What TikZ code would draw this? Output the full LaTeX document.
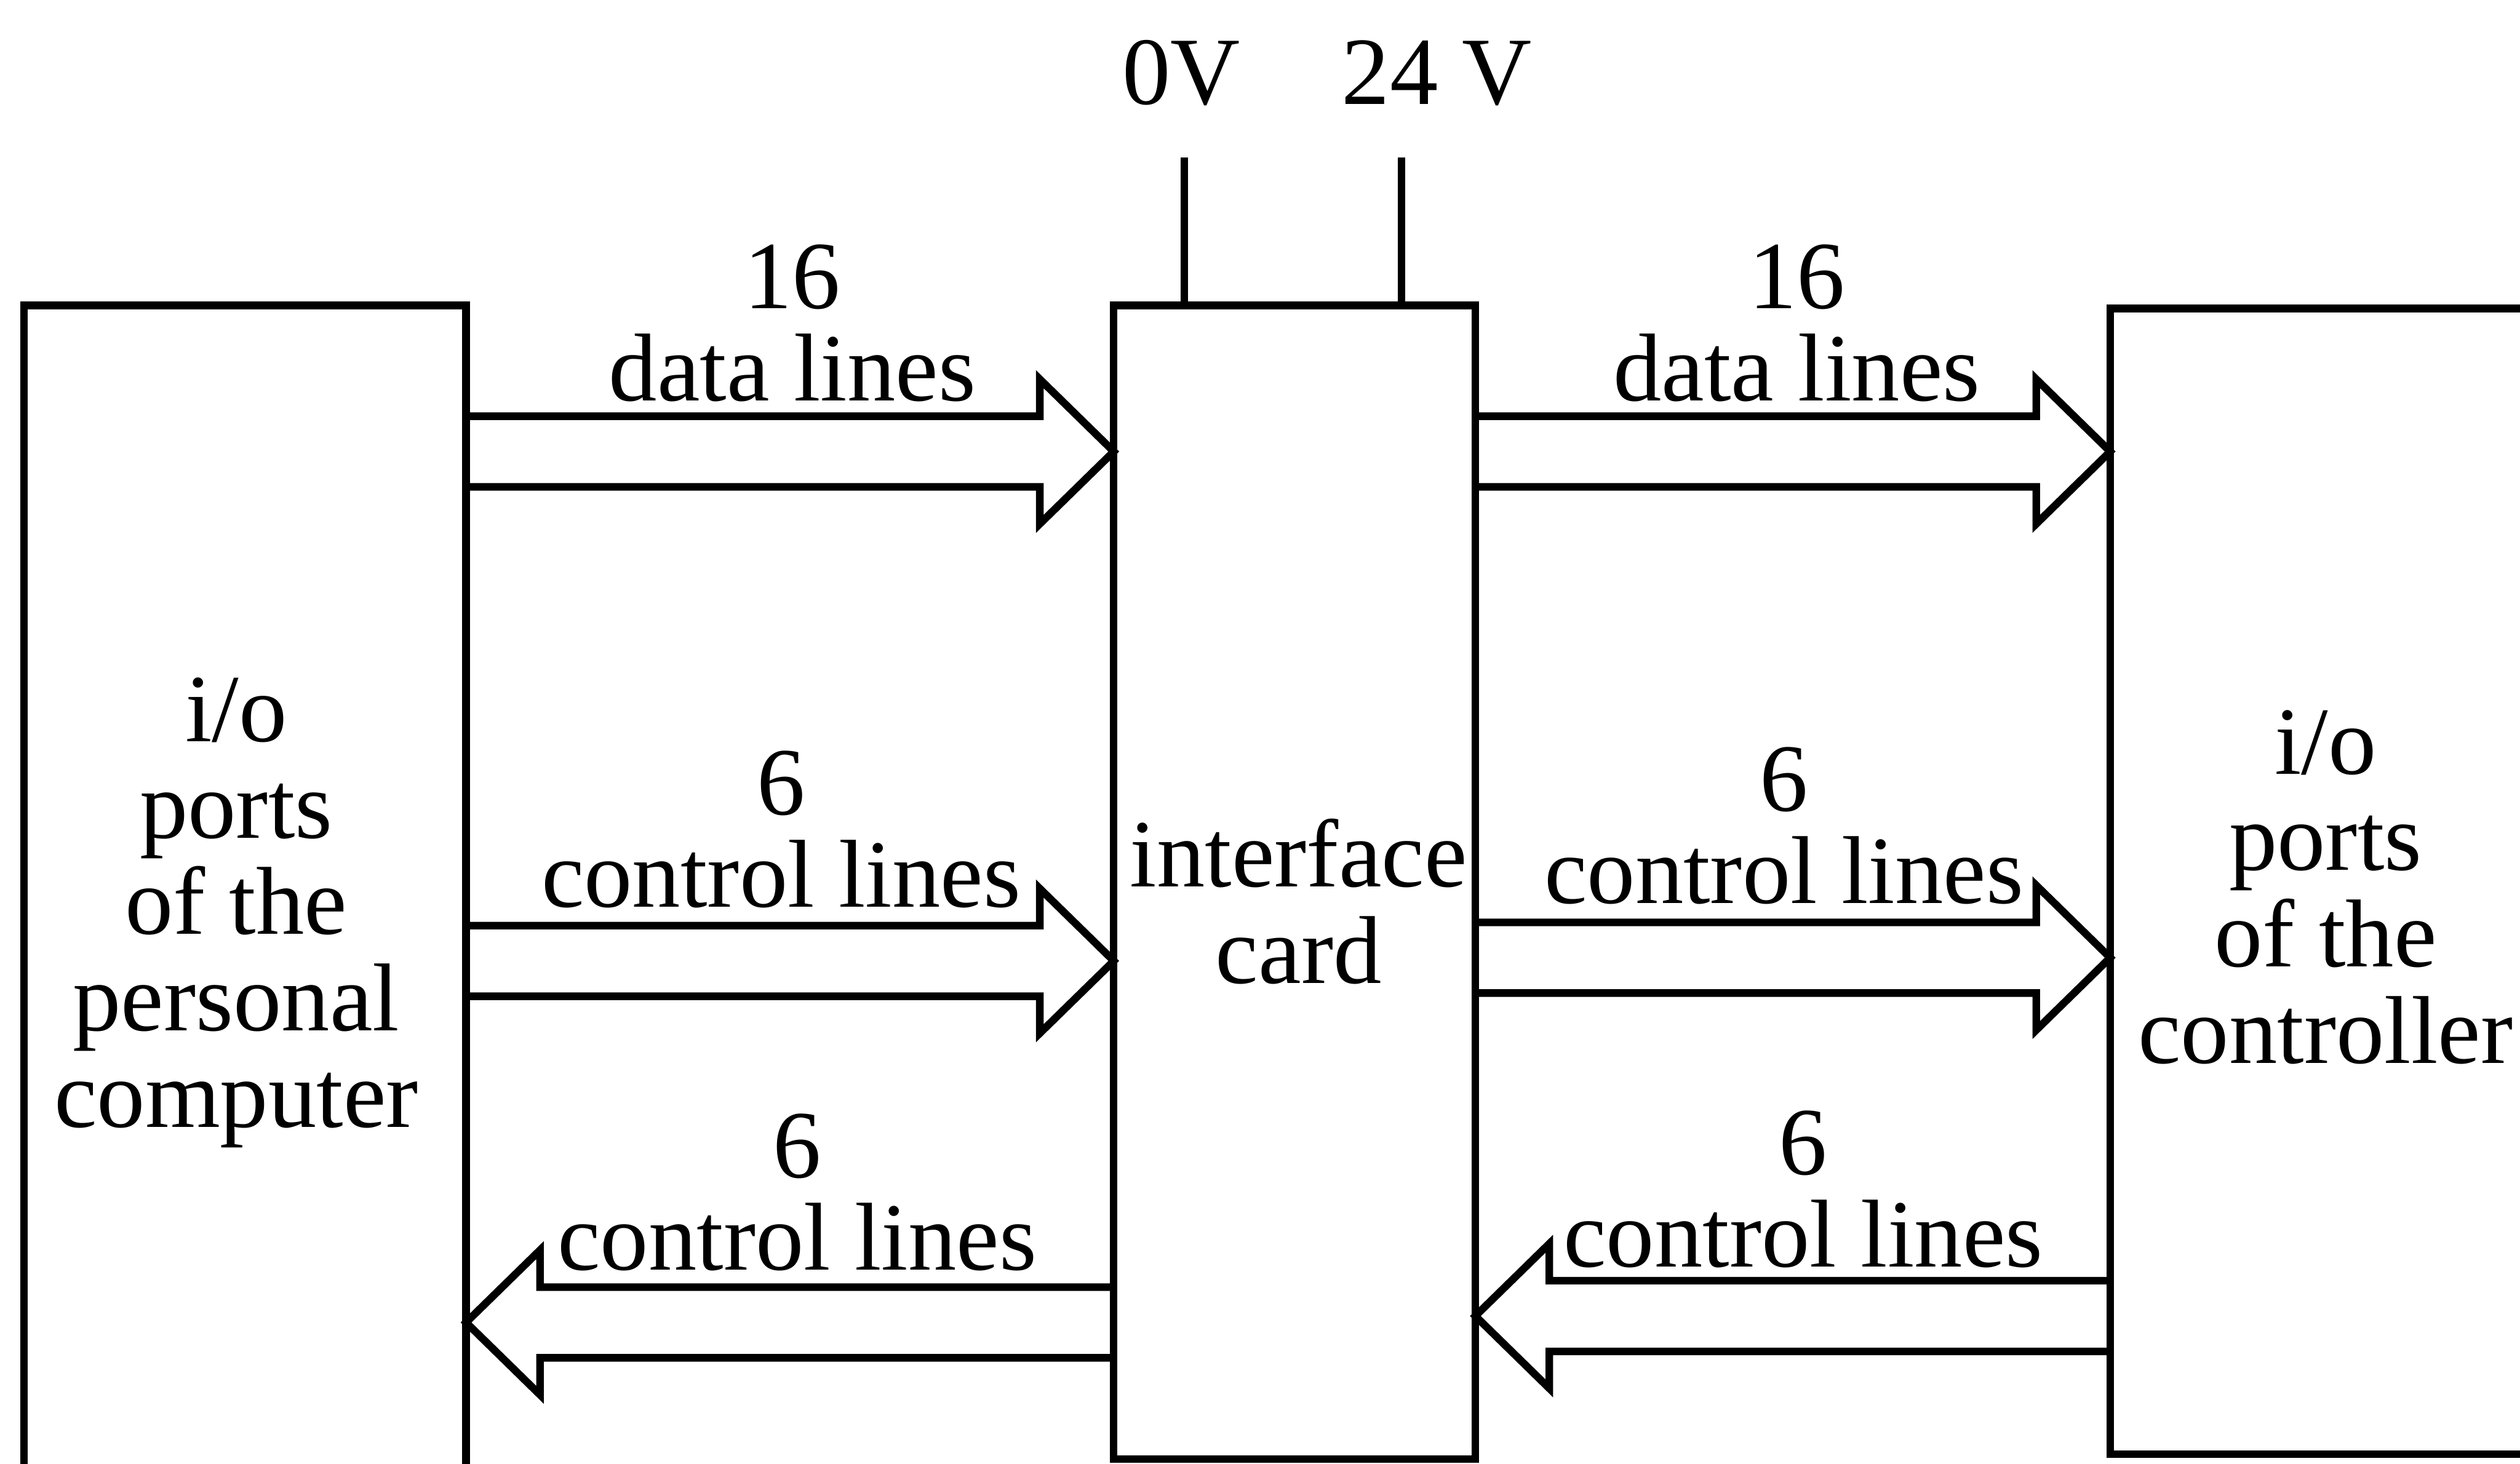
\documentclass[tikz,border=0pt]{standalone}
\usepackage{fontspec}
\setmainfont{Liberation Serif}
\usetikzlibrary{calc,fit}
\tikzset{
 unit/.style={draw,line width=1.8pt,inner sep=0pt,outer sep=0pt},
 bus/.style={draw,line width=1.8pt,line join=miter},
 wire/.style={draw,line width=1.8pt},
 tag/.style={align=center,inner sep=0pt,font=\fontsize{22.9}{21.9}\selectfont},
 boxtext/.style={align=center,inner sep=0pt,font=\fontsize{22.9}{22.9}\selectfont}
}

\begin{document}
\begin{tikzpicture}[x=0.13415mm,y=0.13415mm]
  \useasboundingbox (0,0) rectangle (1568,-911);
  \node[unit,fit={(15,-190) (290,-950)}] (pc) {};
  \node[unit,fit={(693,-190) (918,-908)}] (card) {};
  \node[unit,fit={(1313,-192) (1620,-905)}] (ctrl) {};

  \node[boxtext] (pctext) at (147,-568) {i/o\\ports\\of the\\personal\\computer};
  \node[boxtext] (cardtext) at (808,-561) {interface\\card};
  \node[boxtext] (ctrltext) at (1447,-552) {i/o\\ports\\of the\\controller};

  % supply lines
  \node[tag,anchor=base] (zero) at (735,-65) {0V};
  \node[tag,anchor=base] (supply) at (894,-65) {24 V};
  \coordinate (w0) at (737,-98);
  \coordinate (w24) at (872,-98);
  \draw[wire] (w0) -- (w0 |- card.north);
  \draw[wire] (w24) -- (w24 |- card.north);

  % bus arrows
  \foreach \a/\b/\y in {pc.east/card.west/281, card.east/ctrl.west/281,
      pc.east/card.west/598, card.east/ctrl.west/596,
      card.west/pc.east/823, ctrl.west/card.east/819}{
    \coordinate (tail) at (\a |- 0,-\y);
    \coordinate (tip) at (\b |- 0,-\y);
    \coordinate (base) at ($(tip)!6.17mm!(tail)$);
    \draw[bus] ($(tail)+(0,22)$) -- ($(base)+(0,22)$) -- ($(base)+(0,45)$) -- (tip)
      -- ($(base)+(0,-45)$) -- ($(base)+(0,-22)$) -- ($(tail)+(0,-22)$);
  }

  \foreach \x/\y/\n/\t [count=\i] in {493/201/16/data lines, 1118/201/16/data lines,
      486/516/6/control lines, 1110/514/6/control lines,
      496/742/6/control lines, 1122/740/6/control lines}
    \node[tag] (lbl\i) at (\x,-\y) {\n\\\t};
\end{tikzpicture}
\end{document}
